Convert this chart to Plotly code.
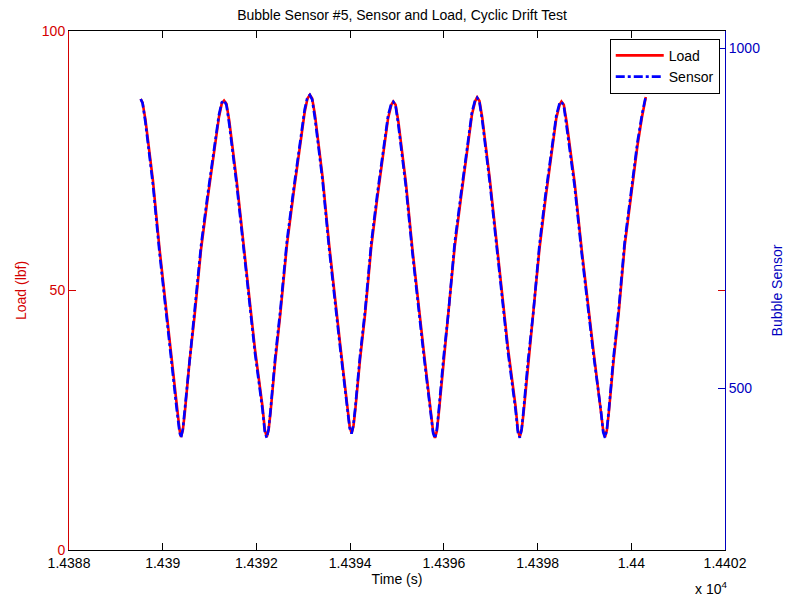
import plotly.graph_objects as go

# values
time_s = [
    14389.53, 14389.57, 14389.63, 14389.79, 14389.93, 14390.16, 14390.30, 14390.36, 14390.39,
    14390.43, 14390.47, 14390.57, 14390.68, 14390.82, 14390.96, 14391.10, 14391.20, 14391.26, 14391.31,
    14391.36, 14391.42, 14391.58, 14391.73, 14391.97, 14392.13, 14392.18, 14392.22,
    14392.26, 14392.30, 14392.40, 14392.51, 14392.65, 14392.79, 14392.93, 14393.03, 14393.09, 14393.14,
    14393.19, 14393.25, 14393.41, 14393.55, 14393.79, 14393.94, 14393.99, 14394.03,
    14394.07, 14394.11, 14394.21, 14394.32, 14394.45, 14394.58, 14394.72, 14394.81, 14394.88, 14394.92,
    14394.97, 14395.03, 14395.19, 14395.33, 14395.57, 14395.72, 14395.77, 14395.81,
    14395.85, 14395.89, 14395.99, 14396.10, 14396.23, 14396.37, 14396.50, 14396.60, 14396.67, 14396.71,
    14396.76, 14396.82, 14396.98, 14397.13, 14397.37, 14397.53, 14397.58, 14397.62,
    14397.66, 14397.70, 14397.80, 14397.91, 14398.04, 14398.17, 14398.31, 14398.40, 14398.47, 14398.51,
    14398.56, 14398.62, 14398.79, 14398.94, 14399.19, 14399.35, 14399.40, 14399.44,
    14399.48, 14399.52, 14399.62, 14399.73, 14399.86, 14400.00, 14400.13, 14400.23, 14400.31,
]

load_lbf = [
    86.9, 86.2, 83.0, 71.3, 58.2, 38.7, 27.7, 23.1, 21.8,
    23.1, 26.3, 36.1, 45.1, 58.1, 67.8, 76.9, 83.4, 86.0, 86.6,
    86.0, 82.7, 71.0, 58.1, 38.6, 27.6, 23.1, 21.8,
    23.1, 26.4, 36.3, 45.5, 58.7, 68.6, 77.8, 84.4, 87.0, 87.7,
    87.0, 83.8, 72.0, 59.0, 39.4, 28.4, 23.8, 22.5,
    23.8, 27.0, 36.6, 45.5, 58.3, 67.9, 76.8, 83.2, 85.8, 86.4,
    85.8, 82.5, 70.8, 57.9, 38.4, 27.4, 22.9, 21.6,
    22.9, 26.2, 36.0, 45.2, 58.3, 68.2, 77.4, 83.9, 86.5, 87.2,
    86.5, 83.3, 71.5, 58.4, 38.8, 27.7, 23.1, 21.8,
    23.1, 26.3, 36.0, 45.1, 58.0, 67.7, 76.7, 83.2, 85.8, 86.4,
    85.8, 82.5, 70.9, 58.0, 38.6, 27.6, 23.1, 21.8,
    23.1, 26.4, 36.3, 45.5, 58.7, 68.6, 77.8, 83.5, 87.3,
]

sensor = [
    925, 919, 891, 800, 700, 551, 468, 435, 427,
    440, 467, 543, 612, 711, 785, 854, 902, 920, 923,
    916, 888, 798, 699, 551, 468, 435, 427,
    440, 467, 545, 615, 716, 791, 861, 910, 928, 931,
    924, 896, 806, 706, 557, 474, 441, 433,
    446, 472, 547, 615, 713, 786, 853, 901, 919, 921,
    915, 886, 796, 698, 549, 466, 434, 426,
    439, 466, 543, 613, 713, 788, 858, 906, 924, 927,
    920, 893, 802, 702, 552, 468, 435, 427,
    440, 467, 543, 612, 711, 785, 852, 901, 919, 921,
    915, 886, 797, 699, 551, 468, 435, 427,
    440, 467, 545, 615, 716, 791, 861, 903, 929,
]

x_ticks = [14388, 14390, 14392, 14394, 14396, 14398, 14400, 14402]
x_labels = ['1.4388', '1.439', '1.4392', '1.4394', '1.4396', '1.4398', '1.44', '1.4402']

RED = '#d40000'
BLUE = '#0000c0'
FONT = 'Liberation Sans, Arial, sans-serif'

fig = go.Figure()
fig.add_trace(go.Scatter(x=time_s, y=load_lbf, name='Load', mode='lines',
                         line=dict(color='#ff0000', width=2.6)))
fig.add_trace(go.Scatter(x=time_s, y=sensor, name='Sensor', mode='lines', yaxis='y2',
                         line=dict(color='#0000ff', width=2.6, dash='dashdot')))

# the page body adds an 8px offset, so the figure is 8px smaller and shifted
fig.update_layout(
    width=788, height=589,
    margin=dict(l=61, r=71, t=23, b=47),
    paper_bgcolor='white', plot_bgcolor='white',
    font=dict(family=FONT, size=14, color='black'),
    title=dict(text='Bubble Sensor #5, Sensor and Load, Cyclic Drift Test',
               x=0.5, xanchor='center', y=0.988, yanchor='middle', automargin=False,
               font=dict(size=14, color='black')),
    xaxis=dict(range=[14388, 14402], tickvals=x_ticks, ticktext=x_labels, automargin=False,
               showline=True, linecolor='black', linewidth=1, mirror='ticks',
               ticks='inside', ticklen=7, tickcolor='black', showgrid=False,
               zeroline=False, tickfont=dict(size=14),
               title=dict(text='Time (s)', standoff=4, font=dict(size=14, color='black'))),
    yaxis=dict(range=[0, 100], tickvals=[0, 50, 100], automargin=False,
               showline=True, linecolor=RED, linewidth=1, mirror='ticks',
               ticks='inside', ticklen=7, tickcolor=RED, showgrid=False,
               zeroline=False, tickfont=dict(color=RED, size=14),
               title=dict(text='Load (lbf)', font=dict(color=RED, size=14), standoff=11)),
    yaxis2=dict(range=[262, 1025], tickvals=[500, 1000], overlaying='y', side='right',
                automargin=False,
                showline=True, linecolor=BLUE, linewidth=1,
                ticks='inside', ticklen=7, tickcolor=BLUE, showgrid=False,
                zeroline=False, tickfont=dict(color=BLUE, size=14),
                title=dict(text='Bubble Sensor', font=dict(color=BLUE, size=14), standoff=13)),
    legend=dict(x=0.992, y=0.985, xanchor='right', yanchor='top',
                bgcolor='white', bordercolor='black', borderwidth=1,
                font=dict(size=14), itemwidth=48, tracegroupgap=0),
    showlegend=True,
)

fig.add_annotation(text='x 10<sup>4</sup>', xref='paper', yref='paper',
                   x=0.978, y=-0.074, showarrow=False, xanchor='center', yanchor='middle',
                   font=dict(size=14, color='black'))

fig.write_html('out.html')
